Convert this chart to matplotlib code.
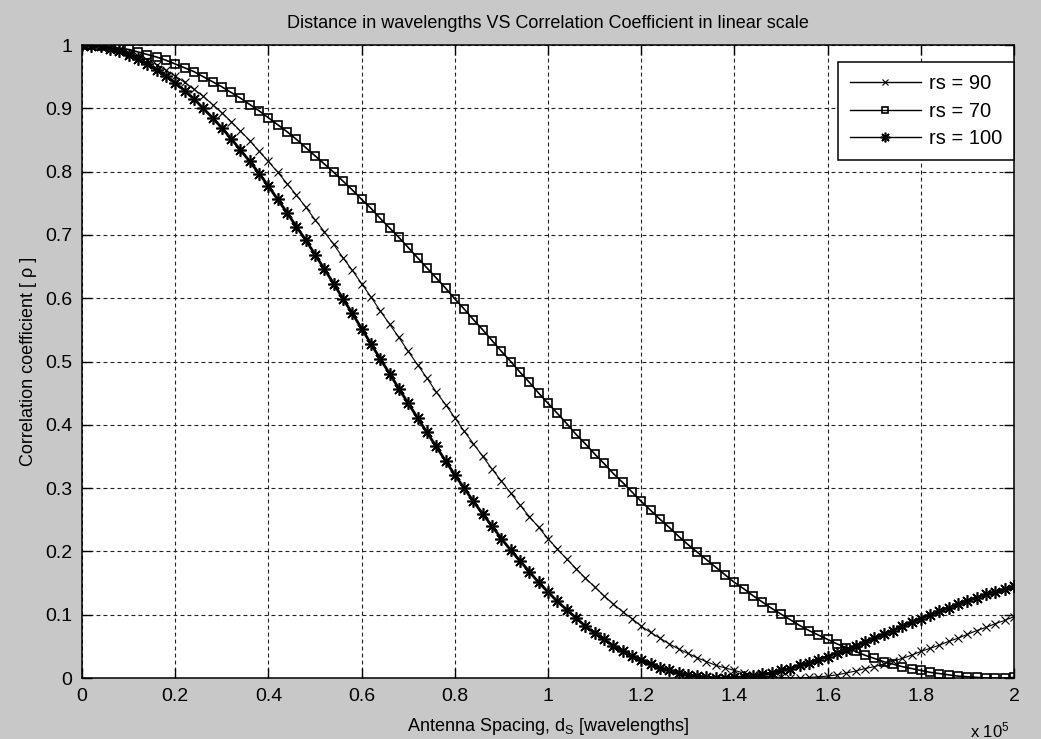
import matplotlib
matplotlib.use('Agg')
import matplotlib.pyplot as plt
import numpy as np
from matplotlib.ticker import FuncFormatter

plt.rcParams['font.family'] = ['Liberation Sans', 'DejaVu Sans']
plt.rcParams['mathtext.fontset'] = 'custom'
plt.rcParams['mathtext.rm'] = 'Liberation Sans'
plt.rcParams['mathtext.it'] = 'Liberation Sans:italic'

# antenna spacing in wavelengths, one marker every 2000
spacing = np.linspace(0, 2e5, 101)

rs90 = [1.000, 1.000, 0.998, 0.996, 0.992, 0.988, 0.982, 0.976, 0.969, 0.960,
        0.951, 0.941, 0.930, 0.919, 0.906, 0.893, 0.879, 0.864, 0.849, 0.832,
        0.816, 0.799, 0.781, 0.763, 0.744, 0.724, 0.705, 0.685, 0.664, 0.644,
        0.623, 0.602, 0.580, 0.559, 0.538, 0.516, 0.495, 0.474, 0.452, 0.432,
        0.411, 0.390, 0.370, 0.350, 0.330, 0.311, 0.292, 0.273, 0.255, 0.238,
        0.220, 0.204, 0.188, 0.173, 0.158, 0.144, 0.130, 0.117, 0.105, 0.094,
        0.082, 0.072, 0.063, 0.054, 0.046, 0.039, 0.032, 0.026, 0.020, 0.016,
        0.012, 0.008, 0.005, 0.003, 0.002, 0.001, 0.000, 0.000, 0.001, 0.002,
        0.003, 0.005, 0.008, 0.011, 0.015, 0.018, 0.022, 0.027, 0.031, 0.036,
        0.042, 0.047, 0.052, 0.058, 0.063, 0.069, 0.075, 0.080, 0.086, 0.091,
        0.097]

rs70 = [1.000, 1.000, 0.999, 0.997, 0.995, 0.993, 0.989, 0.985, 0.981, 0.976,
        0.970, 0.964, 0.958, 0.950, 0.942, 0.934, 0.925, 0.916, 0.906, 0.896,
        0.885, 0.874, 0.863, 0.851, 0.838, 0.825, 0.812, 0.799, 0.785, 0.771,
        0.756, 0.742, 0.726, 0.711, 0.696, 0.680, 0.664, 0.648, 0.632, 0.616,
        0.599, 0.583, 0.566, 0.550, 0.533, 0.516, 0.500, 0.483, 0.467, 0.450,
        0.434, 0.418, 0.402, 0.385, 0.370, 0.354, 0.339, 0.323, 0.309, 0.294,
        0.279, 0.265, 0.251, 0.238, 0.224, 0.211, 0.199, 0.187, 0.175, 0.163,
        0.151, 0.141, 0.130, 0.120, 0.110, 0.101, 0.092, 0.083, 0.075, 0.068,
        0.061, 0.054, 0.048, 0.042, 0.036, 0.031, 0.026, 0.022, 0.018, 0.015,
        0.012, 0.009, 0.007, 0.005, 0.003, 0.002, 0.001, 0.000, 0.000, 0.000,
        0.001]

rs100 = [1.000, 0.999, 0.998, 0.994, 0.990, 0.985, 0.978, 0.970, 0.961, 0.951,
         0.940, 0.928, 0.915, 0.900, 0.885, 0.869, 0.852, 0.834, 0.816, 0.797,
         0.777, 0.756, 0.735, 0.713, 0.692, 0.669, 0.646, 0.623, 0.599, 0.576,
         0.552, 0.528, 0.504, 0.481, 0.457, 0.434, 0.411, 0.388, 0.366, 0.343,
         0.321, 0.300, 0.279, 0.259, 0.240, 0.220, 0.202, 0.185, 0.168, 0.151,
         0.136, 0.121, 0.108, 0.095, 0.082, 0.071, 0.061, 0.051, 0.043, 0.035,
         0.028, 0.022, 0.016, 0.012, 0.008, 0.005, 0.003, 0.001, 0.000, 0.000,
         0.001, 0.002, 0.003, 0.006, 0.008, 0.012, 0.015, 0.020, 0.024, 0.029,
         0.034, 0.040, 0.045, 0.051, 0.057, 0.063, 0.069, 0.075, 0.082, 0.088,
         0.094, 0.100, 0.106, 0.111, 0.117, 0.122, 0.127, 0.132, 0.136, 0.140,
         0.145]

labels = ['rs = 90', 'rs = 70', 'rs = 100']

fig = plt.figure(figsize=(10.41, 7.39), dpi=100, facecolor='#c8c8c8')
ax = fig.add_axes([0.0788, 0.0825, 0.8953, 0.8566])
ax.set_facecolor('white')

ax.plot(spacing, rs90, color='k', lw=0.8, marker='x', ms=6, mew=0.8, label=labels[0])
ax.plot(spacing, rs70, color='k', lw=1.2, marker='s', ms=5.5, mfc='none', mew=1.2, label=labels[1])
ax.plot(spacing, rs100, color='k', lw=2.0, marker=(8, 2, 0), ms=9, mew=1.2, label=labels[2])

ax.set_xlim(0, 2e5)
ax.set_ylim(0, 1)
ax.set_xticks(np.arange(0, 2.01e5, 0.2e5))
ax.set_yticks(np.arange(0, 1.01, 0.1))
ax.xaxis.set_major_formatter(FuncFormatter(lambda v, p: '%g' % round(v / 1e5, 1)))
ax.yaxis.set_major_formatter(FuncFormatter(lambda v, p: '%g' % round(v, 1)))
ax.tick_params(direction='in', length=7, width=1, top=True, right=True,
               labelsize=14, pad=7, colors='k')
for s in ax.spines.values():
    s.set_linewidth(1.1)
    s.set_color('k')

ax.grid(True, color='#222222', lw=0.8, linestyle=(0, (3.5, 2.8)))
ax.set_axisbelow(True)

ax.set_title('Distance in wavelengths VS Correlation Coefficient in linear scale',
             fontsize=13, pad=12)
ax.set_xlabel(r'Antenna Spacing, d$_\mathregular{S}$ [wavelengths]', fontsize=13, labelpad=8)
ax.set_ylabel('Correlation coefficient [ ρ ]', fontsize=13, labelpad=6)
fig.text(0.951, 1 - 730 / 739, r'x 10$^\mathregular{5}$', fontsize=12, ha='center', va='center')

leg = ax.legend(loc='upper right', bbox_to_anchor=(1.0, 0.973), borderaxespad=0,
                fontsize=14.5, numpoints=1, handlelength=3.5, handletextpad=0.4,
                labelspacing=0.42, borderpad=0.6, fancybox=False, framealpha=1,
                edgecolor='k')
leg.get_frame().set_linewidth(1.1)
for h, ms in zip(leg.legend_handles, [5, 5, 7]):
    h.set_markersize(ms)
    h.set_linewidth(1.0)

fig.savefig('out.png', dpi=100, facecolor=fig.get_facecolor())
